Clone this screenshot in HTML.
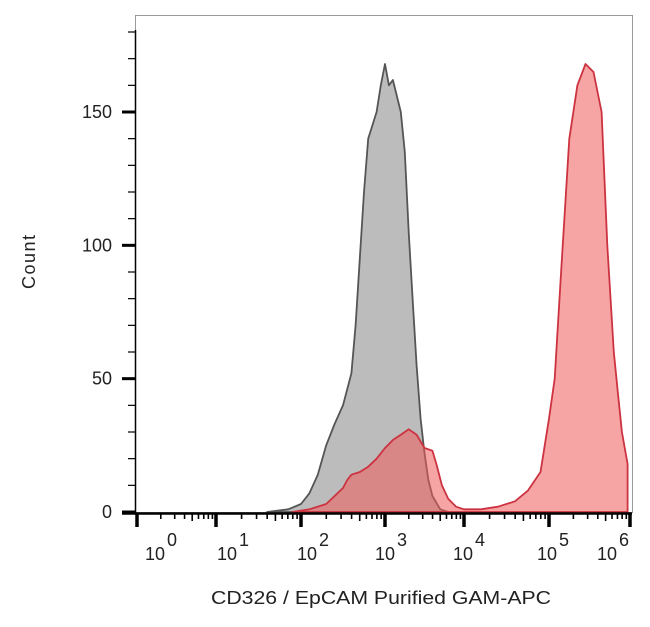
<!DOCTYPE html>
<html><head><meta charset="utf-8"><style>
body{margin:0;background:#fff}
svg{display:block;font-family:"Liberation Sans",Arial,sans-serif}
</style></head><body>
<svg id="chart" width="650" height="627" viewBox="0 0 650 627"></svg>
<script>
// decade tick positions (log10 units)
const decades = [0,1,2,3,4,5,6];
const decadeLabels = ["0","1","2","3","4","5","6"];
const yTicks = [0,50,100,150];
const yTickLabels = ["0","50","100","150"];
const grayLog = [1.6,1.85,2.0,2.1,2.2,2.3,2.4,2.5,2.6,2.65,2.7,2.75,2.8,2.9,2.95,3.0,3.05,3.1,3.2,3.25,3.3,3.35,3.4,3.45,3.5,3.55,3.6,3.7,3.8];
const grayCount = [0,1,3,7,14,25,33,40,52,70,95,120,140,150,160,168,160,162,150,135,105,80,55,35,22,12,6,1,0];
const redLog = [1.9,2.1,2.3,2.4,2.5,2.55,2.6,2.7,2.8,2.9,3.0,3.1,3.2,3.3,3.4,3.5,3.6,3.65,3.72,3.8,3.9,4.0,4.2,4.4,4.6,4.75,4.9,5.0,5.07,5.15,5.25,5.35,5.45,5.55,5.65,5.72,5.8,5.85,5.9,5.97];
const redCount = [0,1,3,6,9,12,14,15,17,20,24,27,29,31,29,24,23,18,10,5,2,1,1,2,4,8,15,35,50,90,140,160,168,165,150,100,60,45,30,18];

const svg = document.getElementById('chart');
const NS = 'http://www.w3.org/2000/svg';
const decPx = [137,216,301,385,464,549,630];
function xs(v){
  if (v<=0) return decPx[0];
  if (v>=6) return decPx[6]+(v-6)*81;
  const i=Math.floor(v), f=v-i;
  return decPx[i]+f*(decPx[i+1]-decPx[i]);
}
const y0=512, yScale=400/150;
function ys(c){return y0-c*yScale;}
function mk(tag, attrs){const e=document.createElementNS(NS,tag);for(const k in attrs)e.setAttribute(k,attrs[k]);svg.appendChild(e);return e;}

let frame = mk('rect',{x:135.5,y:15.5,width:497,height:497,fill:'#fff',stroke:'#999','stroke-width':1});



function area(xArr, cArr, fill, stroke, name){
  let d='M'+xs(xArr[0]).toFixed(1)+','+y0;
  for(let i=0;i<xArr.length;i++) d+=' L'+xs(xArr[i]).toFixed(1)+','+ys(cArr[i]).toFixed(1);
  d+=' L'+xs(xArr[xArr.length-1]).toFixed(1)+','+y0+' Z';
  const p=mk('path',{d:d,fill:fill,stroke:stroke,'stroke-width':1.8,'stroke-linejoin':'round'});
  
  
}
area(grayLog,grayCount,'#bcbcbc','#555','isotype-control-histogram');
area(redLog,redCount,'rgba(240,90,90,0.55)','#cc3340','cd326-histogram');

let ya = mk('line',{x1:135.5,y1:30,x2:135.5,y2:514,stroke:'#000','stroke-width':1.5});


for(let c=0;c<=180;c+=10){
  const major = c%50===0;
  mk('line',{x1:major?122:128,y1:ys(c),x2:135,y2:ys(c),stroke:'#000','stroke-width':major?3:1.2});
}
yTicks.forEach((t,i)=>{
  const tx=mk('text',{x:112,y:ys(t)+6,'text-anchor':'end','font-size':18,fill:'#222'});
  tx.textContent=yTickLabels[i];
  
  
});

let xa = mk('line',{x1:122,y1:513.5,x2:632,y2:513.5,stroke:'#000','stroke-width':2.5});


for(let d=0;d<6;d++){
  for(let m=2;m<=9;m++){
    const x=xs(d+Math.log10(m));
    mk('line',{x1:x,y1:513,x2:x,y2:m===5?521:519,stroke:'#000','stroke-width':1.6});
  }
}
const lblOff=[8,1,-4,-10,-11,-12,-33];
decades.forEach((d,i)=>{
  const x=xs(d);
  mk('line',{x1:x,y1:513,x2:x,y2:527,stroke:'#000','stroke-width':3.5});
  const t=mk('text',{x:x+lblOff[i],y:560,'font-size':18,fill:'#222'});
  t.textContent='10';
  
  
  const e=mk('text',{x:x+lblOff[i]+22,y:546,'font-size':18,fill:'#222'});
  e.textContent=decadeLabels[i];
  
  
});

let yt=mk('text',{x:0,y:0,'font-size':18,fill:'#222','text-anchor':'middle',textLength:54,transform:'translate(35,262) rotate(-90)'});
yt.textContent='Count';


let xt=mk('text',{x:381,y:604,'font-size':18,fill:'#222','text-anchor':'middle',textLength:340,lengthAdjust:'spacingAndGlyphs'});
xt.textContent='CD326 / EpCAM Purified GAM-APC';


</script>
</body></html>
